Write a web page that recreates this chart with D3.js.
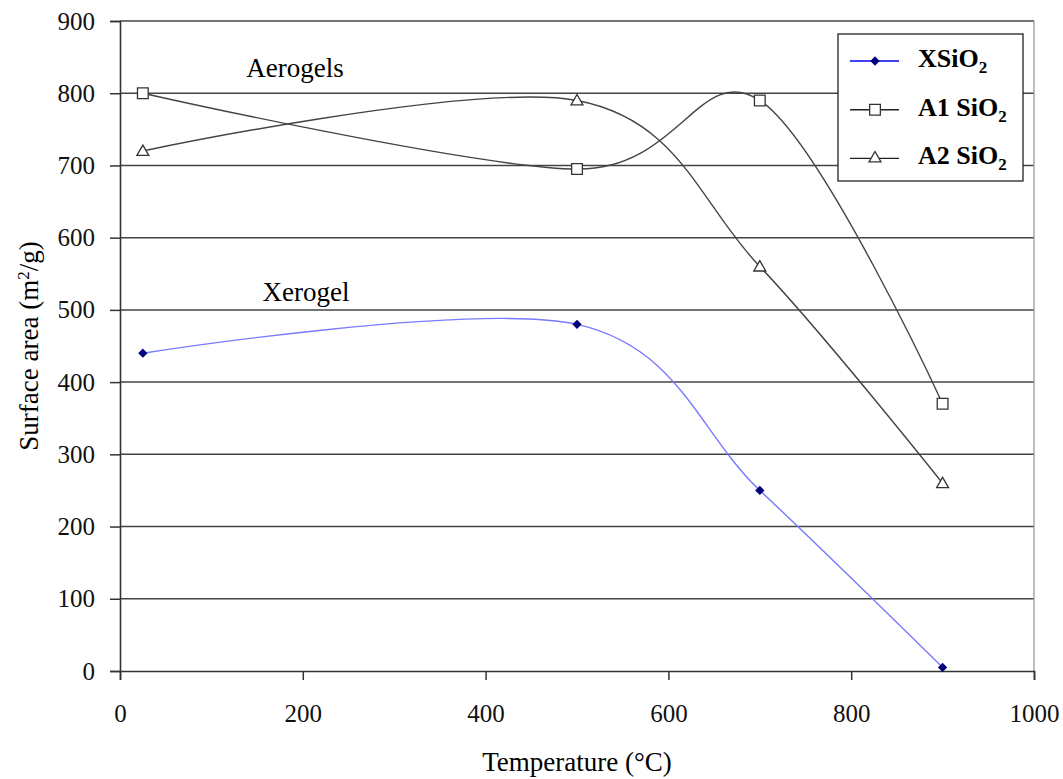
<!DOCTYPE html>
<html><head><meta charset="utf-8">
<script src="https://cdn.jsdelivr.net/npm/d3@7/dist/d3.min.js"></script>
<style>body{margin:0;background:#fff}svg{display:block}text{font-family:"Liberation Serif","Times New Roman",serif}</style>
</head><body><svg id="c" width="1063" height="779"></svg>
<script>
const temps = [25, 500, 700, 900];
const xSiO2 = [440, 480, 250, 5];
const a1SiO2 = [800, 695, 790, 370];
const a2SiO2 = [720, 790, 560, 260];
const xTicks = [0, 200, 400, 600, 800, 1000];
const yTicks = [0, 100, 200, 300, 400, 500, 600, 700, 800, 900];

const svg = d3.select("#c");
const L = 120, R = 1034, T = 21, B = 671;
const x = d3.scaleLinear().domain([0, 1000]).range([L, R]);
const y = d3.scaleLinear().domain([0, 900]).range([B, T]);

// grid
svg.append("g").selectAll("line").data(yTicks.filter(d => d > 0)).join("line")
  .attr("x1", L).attr("x2", R).attr("y1", d => y(d)).attr("y2", d => y(d))
  .attr("stroke", "#444").attr("stroke-width", 1.5);
// right border
svg.append("line").attr("x1", R).attr("x2", R).attr("y1", T).attr("y2", B).attr("stroke", "#999").attr("stroke-width", 1.3);

const ya = svg.append("g").attr("transform", `translate(${L},0)`)
  .call(d3.axisLeft(y).tickValues(yTicks).tickSize(10).tickPadding(15).tickFormat(d3.format("d")));
const xa = svg.append("g").attr("transform", `translate(0,${B})`)
  .call(d3.axisBottom(x).tickValues(xTicks).tickSize(9).tickPadding(24).tickFormat(d3.format("d")));
[ya, xa].forEach(a => {
  a.attr("font-size", 25).attr("font-family", '"Liberation Serif",serif');
  a.select(".domain").attr("stroke", "#333").attr("stroke-width", 1.6);
  a.selectAll(".tick line").attr("stroke", "#333").attr("stroke-width", 1.5);
  a.selectAll("text").attr("fill", "#111");
});

const curve = d3.curveCatmullRom.alpha(0);
const line = vals => d3.line().curve(curve).x((d, i) => x(temps[i])).y(d => y(d))(vals);

svg.append("path").attr("d", line(a1SiO2)).attr("fill", "none").attr("stroke", "#444").attr("stroke-width", 1.4);
svg.append("path").attr("d", line(a2SiO2)).attr("fill", "none").attr("stroke", "#444").attr("stroke-width", 1.4);
svg.append("path").attr("d", line(xSiO2)).attr("fill", "none").attr("stroke", "#7a7aff").attr("stroke-width", 1.4);

const sq = d3.symbol().type(d3.symbolSquare).size(115);
const tri = d3.symbol().type(d3.symbolTriangle).size(62);
const dia = d3.symbol().type(d3.symbolDiamond2).size(55);

svg.append("g").selectAll("path").data(a1SiO2).join("path")
  .attr("d", sq).attr("transform", (d, i) => `translate(${x(temps[i])},${y(d)})`)
  .attr("fill", "#fff").attr("stroke", "#333").attr("stroke-width", 1.3);
svg.append("g").selectAll("path").data(a2SiO2).join("path")
  .attr("d", tri).attr("transform", (d, i) => `translate(${x(temps[i])},${y(d) + 1})`)
  .attr("fill", "#fff").attr("stroke", "#333").attr("stroke-width", 1.3);
svg.append("g").selectAll("path").data(xSiO2).join("path")
  .attr("d", dia).attr("transform", (d, i) => `translate(${x(temps[i])},${y(d)})`)
  .attr("fill", "#00007a");

// annotations
svg.append("text").attr("x", 295).attr("y", 77).attr("text-anchor", "middle").attr("font-size", 27).text("Aerogels");
svg.append("text").attr("x", 306).attr("y", 301).attr("text-anchor", "middle").attr("font-size", 27).text("Xerogel");

// axis titles
svg.append("text").attr("transform", "translate(38,346) rotate(-90)").attr("text-anchor", "middle").attr("font-size", 27)
  .html('Surface area (m<tspan baseline-shift="super" font-size="17">2</tspan>/g)');
svg.append("text").attr("x", 577).attr("y", 771).attr("text-anchor", "middle").attr("font-size", 27).text("Temperature (°C)");

// legend
const lg = svg.append("g");
lg.append("rect").attr("x", 838).attr("y", 34).attr("width", 185).attr("height", 147).attr("fill", "#fff").attr("stroke", "#222").attr("stroke-width", 1.3);
const items = [
  {name: "XSiO", color: "#0000ee", sym: dia, fill: "#00007a", stroke: "none"},
  {name: "A1 SiO", color: "#222", sym: sq, fill: "#fff", stroke: "#333"},
  {name: "A2 SiO", color: "#222", sym: tri, fill: "#fff", stroke: "#333"}
];
items.forEach((it, i) => {
  const yy = 61 + i * 48.7;
  lg.append("line").attr("x1", 850).attr("x2", 899).attr("y1", yy).attr("y2", yy).attr("stroke", it.color).attr("stroke-width", 1.4);
  lg.append("path").attr("d", it.sym).attr("transform", `translate(875,${yy})`).attr("fill", it.fill).attr("stroke", it.stroke).attr("stroke-width", 1.3);
  lg.append("text").attr("x", 918).attr("y", yy + 6).attr("font-size", 26).attr("font-weight", "bold")
    .html(`${it.name}<tspan font-size="17" dy="6">2</tspan>`);
});
</script></body></html>
